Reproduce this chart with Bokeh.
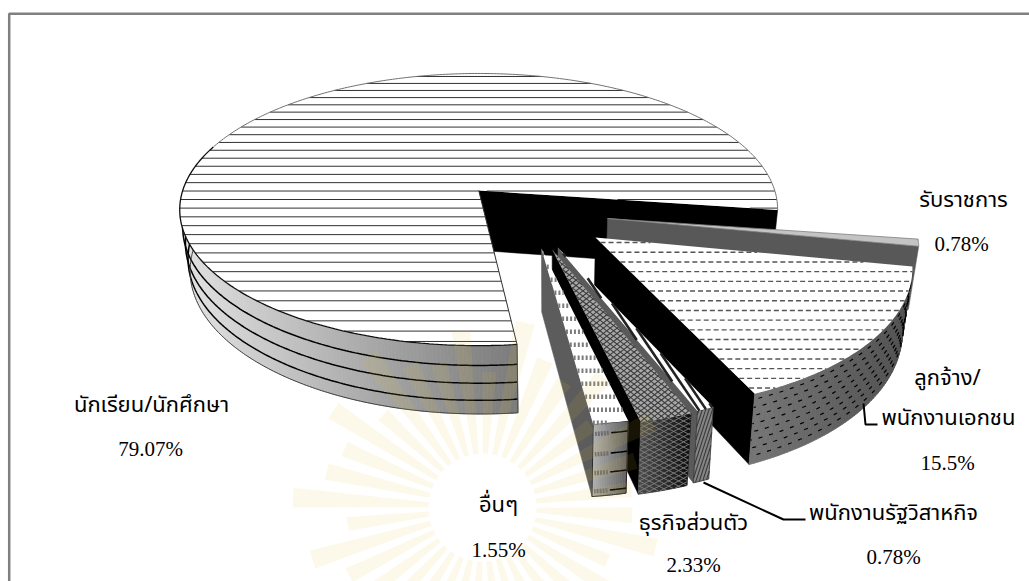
from math import sin, cos, radians
import numpy as np
from bokeh.core.properties import value
from bokeh.embed import file_html
from bokeh.models import Range1d
from bokeh.plotting import figure
from bokeh.resources import INLINE

# Occupation shares, clockwise from the large slice
occupations = ["นักเรียน/นักศึกษา", "รับราชการ", "ลูกจ้าง/พนักงานเอกชน", "พนักงานรัฐวิสาหกิจ", "ธุรกิจส่วนตัว", "อื่นๆ"]
shares = [79.07, 0.78, 15.5, 0.78, 2.33, 1.55]

# Layout of the exploded pie
FIRST_ANGLE = 173.55
explode = [(-0.006, 0.0), (0.417, -0.204), (0.37, -0.336), (0.247, -0.405), (0.228, -0.417), (0.194, -0.412)]
CX, CY, RX, RY, PERSP = 480.0, 190.0, 296.0, 133.4, 0.14

FONT = "Liberation Serif"
TH_FONT = "Noto Sans Thai, Noto Serif Thai, Loma, Garuda, Norasi, Liberation Serif"

p = figure(width=1029, height=581, x_range=Range1d(0, 1029), y_range=Range1d(581, 0),
           output_backend="svg", toolbar_location=None, min_border=0,
           background_fill_color="white", border_fill_color="white", outline_line_color=None)
p.axis.visible = False
p.grid.visible = False


def project(u, v, t=0.0):
    """Pie plane (u, v) at depth t (0 top, 1 bottom) to screen pixels."""
    w = 1 + PERSP * v
    x = CX + RX * u / w
    y = CY - RY * v / w
    return x + t * (550 - x) * 0.028, y + t * (61 + (y - 209) * 0.054)


def rim(offset, a0, a1, t=0.0, n=80):
    pts = []
    for a in np.linspace(a0, a1, n):
        pts.append(project(offset[0] + sin(radians(a)), offset[1] + cos(radians(a)), t))
    return pts


def hatch(poly, angle=0.0, spacing=10.0, phase=0.0, step_growth=0.0):
    """Clip a family of parallel lines to a polygon."""
    c, s = cos(radians(angle)), sin(radians(angle))
    rot = [(x * c + y * s, -x * s + y * c) for x, y in poly]
    ys = [q[1] for q in rot]
    xs_out, ys_out = [], []
    k = min(ys) + phase
    while k < max(ys):
        hits = []
        for (x0, y0), (x1, y1) in zip(rot, rot[1:] + rot[:1]):
            if (y0 <= k < y1) or (y1 <= k < y0):
                hits.append(x0 + (k - y0) * (x1 - x0) / (y1 - y0))
        hits.sort()
        for a, b in zip(hits[0::2], hits[1::2]):
            xs_out.append([a * c - k * s, b * c - k * s])
            ys_out.append([a * s + k * c, b * s + k * c])
        k += spacing + (k - min(ys)) * step_growth
    return xs_out, ys_out


def poly(pts, **kw):
    p.patch([q[0] for q in pts], [q[1] for q in pts], **kw)


def path(pts, **kw):
    p.line([q[0] for q in pts], [q[1] for q in pts], **kw)


def gray(level):
    level = int(max(0, min(255, level)))
    return f"#{level:02x}{level:02x}{level:02x}"


def wall(top, bottom, shade):
    """Outer wall as thin quads so its tone can change along the arc."""
    xs, ys, cols = [], [], []
    for i in range(len(top) - 1):
        q = [top[i], top[i + 1], bottom[i + 1], bottom[i]]
        xs.append([a[0] for a in q])
        ys.append([a[1] for a in q])
        cols.append(gray(shade((top[i][0] + top[i + 1][0]) / 2)))
    p.patches(xs, ys, fill_color=cols, line_color=cols, line_width=0.8)


# Angular extent of every slice
edges = [FIRST_ANGLE]
for s in shares:
    edges.append(edges[-1] + s * 3.6)
spans = [(edges[i], edges[i + 1]) for i in range(len(shares))]
face_colors = ["#000000", "#585858", "#000000", "#5a5a5a", "#000000", "#5c5c5c"]


def cut_face(i):
    a0, a1 = spans[i]
    off = explode[i]
    e = rim(off, a1, a1, 0, 2)[0]
    e1 = rim(off, a1, a1, 1, 2)[0]
    poly([project(*off), e, e1, project(off[0], off[1], 1)],
         fill_color=face_colors[i], line_color=face_colors[i], line_width=0.5)


def top_polygon(i, n=80):
    a0, a1 = spans[i]
    return [project(*explode[i])] + rim(explode[i], a0, a1, 0, n)


# ---- large slice ----
cut_face(0)
a0 = spans[0][0]
main_top = rim(explode[0], a0, 276, 0, 160)
main_bot = rim(explode[0], a0, 276, 1, 160)
wall(main_top, main_bot, lambda x: np.interp(x, [180, 514], [226, 124]))
for t in (0.29, 0.55, 0.80):
    path(rim(explode[0], a0, 268, t, 160), line_color="black", line_width=1.5)
path(main_bot, line_color="#404040", line_width=1)
path([main_top[0], main_bot[0]], line_color="#404040", line_width=1)
shape = top_polygon(0, 400)
poly(shape, fill_color="white", line_color=None)
xs, ys = hatch(shape, 0, 6.9, 3.0, 0.0135)
p.multi_line(xs, ys, line_color="#1a1a1a", line_width=0.9)
path(rim(explode[0], spans[0][0], 290, 0, 160), line_color="#101010", line_width=1.3)
path(rim(explode[0], 290, spans[0][1], 0, 240), line_color="#707070", line_width=1)
path([project(*explode[0]), main_top[0]], line_color="#303030", line_width=1)

# ---- thin slice on the right ----
cut_face(1)
poly(top_polygon(1), fill_color="#c4c4c4", line_color="#808080", line_width=0.8)

# ---- second largest slice ----
cut_face(2)
t2 = rim(explode[2], spans[2][0], spans[2][1], 0, 60)
b2 = rim(explode[2], spans[2][0], spans[2][1], 1, 60)
wall(t2, b2, lambda x: np.interp(x, [748, 912], [120, 80]))
for j, t in enumerate(np.arange(0.08, 1.0, 0.115)):
    path(rim(explode[2], spans[2][0], spans[2][1], float(t), 60), line_color="black", line_width=1.2,
         line_dash="4 7", line_dash_offset=j * 5)
shape = top_polygon(2)
poly(shape, fill_color="white", line_color=None)
xs, ys = hatch(shape, 0, 9.7, 5.0)
p.multi_line(xs, ys, line_color="#555555", line_width=1.4, line_dash="5 3")

# ---- striped sliver ----
cut_face(3)
t3 = rim(explode[3], spans[3][0], spans[3][1], 0, 6)
b3 = rim(explode[3], spans[3][0], spans[3][1], 1, 6)
outer = t3 + b3[::-1]
poly(outer, fill_color="#858585", line_color="#303030", line_width=0.8)
xs, ys = hatch(outer, -72, 3.2, 1.0)
p.multi_line(xs, ys, line_color="#3a3a3a", line_width=1.1)
shape = top_polygon(3, 6)
poly(shape, fill_color="white", line_color=None)
xs, ys = hatch(shape, 56, 6.2, 1.0)
p.multi_line(xs, ys, line_color="#222222", line_width=2.6)

# ---- lattice slice ----
cut_face(4)
t4 = rim(explode[4], spans[4][0], spans[4][1], 0, 24)
b4 = rim(explode[4], spans[4][0], spans[4][1], 1, 24)
wall(t4, b4, lambda x: np.interp(x, [641, 691], [75, 15]))
outer = t4 + b4[::-1]
for ang in (28, -28):
    xs, ys = hatch(outer, ang, 4.6, 1.0)
    p.multi_line(xs, ys, line_color="#808080", line_width=0.9)
shape = top_polygon(4, 10)
poly(shape, fill_color="#a8a8a8", line_color=None)
for ang in (38, -38):
    xs, ys = hatch(shape, ang, 4.2, 1.0)
    p.multi_line(xs, ys, line_color="#3c3c3c", line_width=1.1)

# ---- small slice next to the gap ----
cut_face(5)
t5 = rim(explode[5], spans[5][0], spans[5][1], 0, 20)
b5 = rim(explode[5], spans[5][0], spans[5][1], 1, 20)
wall(t5, b5, lambda x: np.interp(x, [593, 628], [175, 96]))
for t in (0.14, 0.42, 0.68, 0.93):
    off = explode[5]
    s0, s1 = spans[5]
    path(rim(off, s0, s0 + (s1 - s0) * 0.48, t, 6), line_color="black", line_width=1.6)
    path(rim(off, s0 + (s1 - s0) * 0.55, s1 - (s1 - s0) * 0.06, t, 6), line_color="#6e6e6e", line_width=4.5,
         line_dash="2 1")
path(t5 + b5[::-1] + t5[:1], line_color="#1c1c1c", line_width=0.9)
shape = top_polygon(5, 8)
poly(shape, fill_color="white", line_color=None)
xs, ys = hatch(shape, 0, 13, 5.0)
p.multi_line(xs, ys, line_color="#7c7c7c", line_width=4.5, line_dash="2 2")

# ---- pale sunburst over the lower part of the page ----
ray_x, ray_y = 482.0, 507.0
ray_xs, ray_ys = [], []
ray_reach = [150, 178, 136, 190, 160]
for k in range(36):
    mid = k * 10.0 + 3
    half = 3.0
    inner = 54
    outer_r = ray_reach[k % len(ray_reach)]
    corners = [(inner, mid - half * 0.9), (outer_r, mid - half), (outer_r, mid + half), (inner, mid + half * 0.9)]
    ray_xs.append([ray_x + r * cos(radians(a)) for r, a in corners])
    ray_ys.append([ray_y + r * sin(radians(a)) for r, a in corners])
p.patches(ray_xs, ray_ys, fill_color="#e8c030", fill_alpha=0.1, line_color=None)

# ---- page frame ----
p.line([8.7, 8.7, 1029], [581, 13.3, 13.3], line_color="#808080", line_width=2.5)

# ---- leader lines ----
p.line([863, 865, 877], [403, 424, 424], line_color="black", line_width=2)
p.line([703, 783, 805], [482, 519, 519], line_color="black", line_width=2)

# ---- labels ----
name_text = ["นักเรียน/นักศึกษา", "รับราชการ", "ลูกจ้าง/", "พนักงานเอกชน", "พนักงานรัฐวิสาหกิจ", "ธุรกิจส่วนตัว", "อื่นๆ"]
name_x = [151, 963, 947, 948, 893, 693, 498]
name_y = [405, 200, 378, 418, 513, 523, 505]
p.text(name_x, name_y, text=name_text, text_font=value(TH_FONT), text_font_size="22px",
       text_align="center", text_baseline="middle", text_color="black")

pct_text = [f"{s:g}%" for s in shares]
pct_x = [150, 961, 947, 893, 693, 498]
pct_y = [448, 243, 462, 556, 564, 549]
p.text(pct_x, pct_y, text=pct_text, text_font=value(FONT), text_font_size="21px",
       text_align="center", text_baseline="middle", text_color="black")

open("out.html", "w").write(file_html(p, INLINE))
